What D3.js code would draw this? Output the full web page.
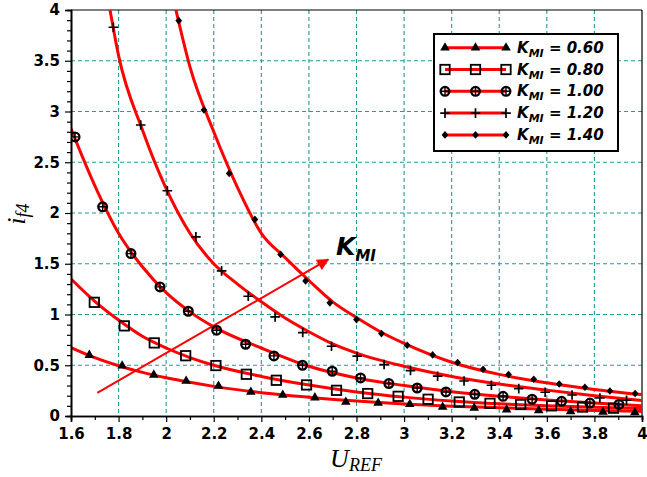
<!DOCTYPE html>
<html><head><meta charset="utf-8">
<script src="https://cdn.jsdelivr.net/npm/d3@7"></script>
<style>body{margin:0;background:#fff}svg{display:block}</style>
</head><body><svg id="c" width="647" height="477"></svg>
<script>
// ---- data ----
const seriesLabels = ["0.60", "0.80", "1.00", "1.20", "1.40"];
const markerTypes = ["triangle", "square", "circle", "plus", "diamond"];

// fitted curves (red lines), [U_REF, i_f4]
const curve060 = [[1.6,0.675],[1.7,0.575],[1.8,0.495],[1.9,0.43],[2.0,0.377],[2.1,0.332],[2.2,0.292],[2.4,0.23],[2.6,0.185],[2.8,0.147],[3.0,0.118],[3.2,0.097],[3.4,0.081],[3.6,0.067],[3.8,0.055],[4.0,0.045]];
const curve080 = [[1.6,1.35],[1.7,1.13],[1.8,0.945],[1.9,0.785],[2.0,0.67],[2.1,0.576],[2.2,0.5],[2.4,0.39],[2.6,0.305],[2.8,0.237],[3.0,0.186],[3.2,0.148],[3.4,0.12],[3.6,0.1],[3.8,0.085],[4.0,0.073]];
const curve100 = [[1.6,2.83],[1.7,2.27],[1.8,1.8],[1.9,1.47],[2.0,1.215],[2.1,1.026],[2.2,0.878],[2.4,0.67],[2.6,0.49],[2.8,0.375],[3.0,0.3],[3.2,0.24],[3.4,0.195],[3.6,0.158],[3.8,0.127],[4.0,0.1]];
const curve120 = [[1.764,4.0],[1.8,3.55],[1.9,2.82],[2.0,2.24],[2.1,1.8],[2.2,1.5],[2.3,1.3],[2.4,1.125],[2.5,0.965],[2.6,0.83],[2.7,0.71],[2.8,0.62],[3.0,0.49],[3.2,0.39],[3.4,0.315],[3.6,0.255],[3.8,0.2],[4.0,0.152]];
const curve140 = [[2.041,4.0],[2.1,3.44],[2.2,2.8],[2.3,2.25],[2.4,1.8],[2.5,1.56],[2.6,1.335],[2.7,1.125],[2.8,0.97],[2.9,0.83],[3.0,0.715],[3.2,0.53],[3.4,0.41],[3.6,0.327],[3.8,0.262],[4.0,0.211]];

// measured points (markers)
const pts060 = [[1.677,0.6],[1.815,0.495],[1.948,0.405],[2.084,0.345],[2.22,0.295],[2.356,0.236],[2.49,0.207],[2.625,0.181],[2.755,0.138],[2.891,0.128],[3.024,0.115],[3.162,0.089],[3.295,0.079],[3.431,0.063],[3.566,0.055],[3.70,0.045],[3.836,0.04],[3.97,0.035]];
const pts080 = [[1.698,1.12],[1.824,0.888],[1.95,0.72],[2.082,0.594],[2.209,0.497],[2.337,0.411],[2.463,0.352],[2.59,0.306],[2.716,0.253],[2.847,0.221],[2.975,0.194],[3.101,0.165],[3.232,0.138],[3.361,0.125],[3.49,0.113],[3.62,0.1],[3.75,0.088],[3.88,0.077]];
const pts100 = [[1.617,2.75],[1.733,2.061],[1.852,1.6],[1.974,1.272],[2.093,1.032],[2.212,0.845],[2.334,0.707],[2.453,0.592],[2.573,0.5],[2.698,0.441],[2.817,0.375],[2.936,0.32],[3.055,0.276],[3.176,0.237],[3.297,0.214],[3.416,0.194],[3.538,0.165],[3.662,0.145],[3.781,0.127],[3.903,0.114]];
const pts120 = [[1.778,3.83],[1.893,2.867],[2.005,2.219],[2.125,1.765],[2.233,1.43],[2.345,1.18],[2.458,0.976],[2.574,0.822],[2.695,0.687],[2.803,0.589],[2.916,0.507],[3.027,0.448],[3.141,0.392],[3.252,0.345],[3.367,0.303],[3.482,0.27],[3.593,0.234],[3.706,0.207],[3.823,0.178],[3.935,0.155]];
const pts140 = [[2.053,3.895],[2.159,3.015],[2.265,2.39],[2.373,1.937],[2.481,1.592],[2.586,1.331],[2.688,1.115],[2.8,0.95],[2.905,0.812],[3.013,0.697],[3.12,0.602],[3.225,0.527],[3.332,0.46],[3.439,0.408],[3.545,0.362],[3.652,0.316],[3.76,0.283],[3.865,0.247],[3.971,0.221]];

const xMajor = [1.6,1.8,2.0,2.2,2.4,2.6,2.8,3.0,3.2,3.4,3.6,3.8,4.0];
const xMajorLabels = ["1.6","1.8","2","2.2","2.4","2.6","2.8","3","3.2","3.4","3.6","3.8","4"];
const yMajor = [0,0.5,1,1.5,2,2.5,3,3.5,4];
const yMajorLabels = ["0","0.5","1","1.5","2","2.5","3","3.5","4"];
const arrowPts = [[1.7105,0.227],[2.681,1.542]];

const curves = [curve060, curve080, curve100, curve120, curve140];
const points = [pts060, pts080, pts100, pts120, pts140];

// ---- layout ----
const svg = d3.select("#c");
const L = 71, R = 642, T = 10, B = 416;
const x = d3.scaleLinear().domain([1.6, 4]).range([L, R]);
const y = d3.scaleLinear().domain([0, 4]).range([B, T]);
const FONT = "'DejaVu Sans', sans-serif";
const GRID = "#1f9c9c";

// grid
const g = svg.append("g");
g.selectAll(".gx").data(xMajor.slice(1, -1)).join("line")
  .attr("x1", d => x(d)).attr("x2", d => x(d)).attr("y1", T).attr("y2", B)
  .attr("stroke", GRID).attr("stroke-width", 1.1).attr("stroke-dasharray", "4,3");
g.selectAll(".gy").data(yMajor.slice(1, -1)).join("line")
  .attr("y1", d => y(d)).attr("y2", d => y(d)).attr("x1", L).attr("x2", R)
  .attr("stroke", GRID).attr("stroke-width", 1.1).attr("stroke-dasharray", "4,3");

// frame (top/right)
svg.append("line").attr("x1", L).attr("x2", R).attr("y1", T).attr("y2", T).attr("stroke", "#000").attr("stroke-width", 1.2);
svg.append("line").attr("x1", R).attr("x2", R).attr("y1", T).attr("y2", B).attr("stroke", "#000").attr("stroke-width", 1.2);

// clip
svg.append("clipPath").attr("id", "clip").append("rect").attr("x", L).attr("y", T).attr("width", R - L).attr("height", B - T);

// curves
const line = d3.line().x(d => x(d[0])).y(d => y(d[1])).curve(d3.curveMonotoneX);
const cg = svg.append("g").attr("clip-path", "url(#clip)");
cg.selectAll("path.c").data(curves).join("path")
  .attr("d", line).attr("fill", "none").attr("stroke", "#ff0000").attr("stroke-width", 3);

// arrow
svg.append("defs").append("marker").attr("id", "ah").attr("viewBox", "0 0 10 10")
  .attr("refX", 9).attr("refY", 5).attr("markerWidth", 7).attr("markerHeight", 6).attr("orient", "auto")
  .attr("markerUnits", "strokeWidth")
  .append("path").attr("d", "M0,0 L10,5 L0,10 z").attr("fill", "#ff0000");
svg.append("line").attr("x1", x(arrowPts[0][0])).attr("y1", y(arrowPts[0][1]))
  .attr("x2", x(arrowPts[1][0])).attr("y2", y(arrowPts[1][1]))
  .attr("stroke", "#ff0000").attr("stroke-width", 2).attr("marker-end", "url(#ah)");

// markers
function drawMarker(sel, type) {
  if (type === "triangle") {
    sel.append("path").attr("d", d3.symbol(d3.symbolTriangle, 40)()).attr("fill", "#000");
  } else if (type === "square") {
    sel.append("rect").attr("x", -4.7).attr("y", -4.7).attr("width", 9.4).attr("height", 9.4)
      .attr("fill", "none").attr("stroke", "#000").attr("stroke-width", 1.8);
  } else if (type === "circle") {
    sel.append("circle").attr("r", 4.4).attr("fill", "none").attr("stroke", "#000").attr("stroke-width", 2.2);
    sel.append("path").attr("d", "M-4.4,0H4.4M0,-4.4V4.4").attr("stroke", "#000").attr("stroke-width", 1.4);
  } else if (type === "plus") {
    sel.append("path").attr("d", "M-4.8,0H4.8M0,-4.8V4.8").attr("stroke", "#000").attr("stroke-width", 1.7);
  } else if (type === "diamond") {
    sel.append("path").attr("d", "M0,-3.8L3.4,0L0,3.8L-3.4,0Z").attr("fill", "#000");
  }
}
const mg = svg.append("g").attr("clip-path", "url(#clip)");
points.forEach((arr, i) => {
  mg.append("g").selectAll("g").data(arr).join("g")
    .attr("transform", d => `translate(${x(d[0])},${y(d[1])})`)
    .each(function() { drawMarker(d3.select(this), markerTypes[i]); });
});

// axes
const xAxis = d3.axisBottom(x).tickValues(xMajor).tickSize(6).tickPadding(6)
  .tickFormat((d, i) => xMajorLabels[i]);
const xMinor = d3.axisBottom(x).tickValues(d3.range(17, 40, 2).map(v => v / 10)).tickSize(4).tickFormat("");
const yAxis = d3.axisLeft(y).tickValues(yMajor).tickSize(6).tickPadding(5)
  .tickFormat((d, i) => yMajorLabels[i]);
const yMinor = d3.axisLeft(y).tickValues(d3.range(0, 41).filter(v => v % 5 !== 0).map(v => v / 10)).tickSize(4).tickFormat("");

function styleAxis(a) {
  a.selectAll("path.domain").attr("stroke", "#000").attr("stroke-width", 1.6);
  a.selectAll("line").attr("stroke", "#000").attr("stroke-width", 1.2);
  a.selectAll("text").attr("fill", "#000").style("font-family", FONT).style("font-weight", "bold").style("font-size", "15px");
}
styleAxis(svg.append("g").attr("transform", `translate(0,${B})`).call(xMinor));
styleAxis(svg.append("g").attr("transform", `translate(0,${B})`).call(xAxis));
styleAxis(svg.append("g").attr("transform", `translate(${L},0)`).call(yMinor));
styleAxis(svg.append("g").attr("transform", `translate(${L},0)`).call(yAxis));

// axis titles
const xt = svg.append("text").attr("x", 356).attr("y", 467).attr("text-anchor", "middle")
  .style("font-family", "'Liberation Serif', serif").style("font-style", "italic").style("font-size", "26px");
xt.append("tspan").text("U");
xt.append("tspan").attr("dy", 4).style("font-size", "18px").text("REF");

const yt = svg.append("text").attr("transform", "translate(25,214) rotate(-90)").attr("text-anchor", "middle")
  .style("font-family", "'Liberation Serif', serif").style("font-style", "italic").style("font-size", "26px");
yt.append("tspan").text("i");
yt.append("tspan").attr("dy", 4).style("font-size", "18px").text("f4");

// K_MI annotation
const ka = svg.append("text").attr("x", 336).attr("y", 255)
  .style("font-family", FONT).style("font-weight", "bold").style("font-style", "italic").style("font-size", "25px");
ka.append("tspan").text("K");
ka.append("tspan").attr("dy", 6).style("font-size", "15px").text("MI");

// legend
const lg = svg.append("g");
lg.append("rect").attr("x", 434).attr("y", 34).attr("width", 184).attr("height", 117)
  .attr("fill", "#fff").attr("stroke", "#000").attr("stroke-width", 2);
seriesLabels.forEach((lab, i) => {
  const yy = 47.7 + i * 21.8;
  lg.append("line").attr("x1", 445).attr("x2", 506).attr("y1", yy).attr("y2", yy)
    .attr("stroke", "#ff0000").attr("stroke-width", 3);
  [445, 475.5, 506].forEach(xx => {
    const m = lg.append("g").attr("transform", `translate(${xx},${yy})`);
    drawMarker(m, markerTypes[i]);
  });
  const t = lg.append("text").attr("x", 517).attr("y", yy + 5)
    .style("font-family", FONT).style("font-weight", "bold").style("font-style", "italic").style("font-size", "15px");
  t.append("tspan").text("K");
  t.append("tspan").attr("dy", 4).style("font-size", "11px").text("MI");
  t.append("tspan").attr("dy", -4).text(" = " + lab);
});
</script>
</body></html>
